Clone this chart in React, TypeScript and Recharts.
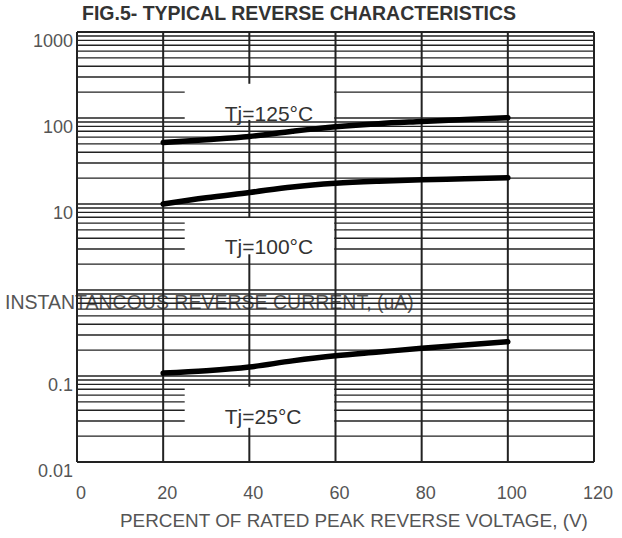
import { LineChart, Line, XAxis, YAxis, ReferenceLine, ReferenceDot } from "recharts";

// percent of rated peak reverse voltage
const percent = [20, 30, 40, 50, 60, 70, 80, 90, 100];
// instantaneous reverse current (uA)
const current125 = [52, 56, 61, 70, 79, 86, 91, 96, 101];
const current100 = [10, 11.8, 13.6, 15.8, 17.4, 18.4, 19.1, 19.6, 20.2];
const current25 = [0.108, 0.115, 0.127, 0.15, 0.172, 0.19, 0.21, 0.23, 0.25];

const xTicks = [0, 20, 40, 60, 80, 100, 120];
const yTicks = [0.01, 0.1, 1, 10, 100, 1000];
const yTickLabels = ["0.01", "0.1", "", "10", "100", "1000"];

const tjLabels = ["Tj=125°C", "Tj=100°C", "Tj=25°C"];
const tjLabelX = [34.3, 34.3, 34.3];
const tjLabelY = [114, 3.2, 0.034];

const decades = [0.01, 0.1, 1, 10, 100];
const minorSteps = [1, 2, 3, 4, 5, 6, 7, 8, 9];

// white patches behind the Tj labels where the grid is left out
const cutBoxes = [
  { x1: 25, x2: 59.7, y1: 95, y2: 250 },
  { x1: 25, x2: 59.7, y1: 2.6, y2: 6.9 },
  { x1: 25, x2: 59.7, y1: 0.025, y2: 0.075 },
];

const FONT = "'Liberation Sans', Arial, sans-serif";
const INK = "#222";

const data = percent.map((p, i) => ({
  x: p,
  t125: current125[i],
  t100: current100[i],
  t25: current25[i],
}));

const gridY = [...decades.flatMap((d) => minorSteps.map((k) => +(d * k).toPrecision(3))), 1000];

function hSegments(v: number) {
  const box = cutBoxes.find((b) => v >= b.y1 && v <= b.y2);
  if (!box) return [[0, 120]];
  return [
    [0, box.x1],
    [box.x2, 120],
  ];
}

function vSegments(x: number) {
  const boxes = cutBoxes.filter((b) => x >= b.x1 && x <= b.x2).sort((a, b) => b.y2 - a.y2);
  const segs: number[][] = [];
  let top = 1000;
  boxes.forEach((b) => {
    segs.push([top, b.y2]);
    top = b.y1;
  });
  segs.push([top, 0.01]);
  return segs;
}

function YTick(props: any) {
  const { x, y, payload } = props;
  const label = yTickLabels[yTicks.indexOf(payload.value)];
  return (
    <text x={x - 4} y={y + 9} textAnchor="end" dominantBaseline="central" fill="#555" fontSize={18} fontFamily={FONT}>
      {label}
    </text>
  );
}

function XTick(props: any) {
  const { x, y, payload } = props;
  return (
    <text x={x + 4} y={y + 31} textAnchor="middle" dominantBaseline="central" fill="#555" fontSize={18} fontFamily={FONT}>
      {payload.value}
    </text>
  );
}

export default function App() {
  return (
    <div style={{ position: "absolute", left: 0, top: 0, width: 622, height: 538, background: "#fff" }}>
      <div
        style={{
          position: "absolute",
          left: 82,
          top: 3,
          fontFamily: FONT,
          fontWeight: "bold",
          fontSize: 19.5,
          lineHeight: "20px",
          color: "#333",
          whiteSpace: "nowrap",
        }}
      >
        FIG.5- TYPICAL REVERSE CHARACTERISTICS
      </div>
      <div
        style={{
          position: "absolute",
          left: 5,
          top: 292,
          fontFamily: FONT,
          fontSize: 19.5,
          lineHeight: "20px",
          color: "#555",
          whiteSpace: "nowrap",
        }}
      >
        INSTANTANCOUS REVERSE CURRENT, (uA)
      </div>
      <div
        style={{
          position: "absolute",
          left: 120,
          top: 511,
          fontFamily: FONT,
          fontSize: 18.9,
          lineHeight: "20px",
          color: "#555",
          whiteSpace: "nowrap",
        }}
      >
        PERCENT OF RATED PEAK REVERSE VOLTAGE, (V)
      </div>
      <div style={{ position: "absolute", left: 0, top: 0 }}>
        <LineChart width={622} height={538} data={data} margin={{ top: 32, right: 28, bottom: 36, left: 17 }}>
          <XAxis
            type="number"
            dataKey="x"
            domain={[0, 120]}
            ticks={xTicks}
            interval={0}
            height={40}
            axisLine={false}
            tickLine={false}
            tickSize={0}
            tickMargin={0}
            tick={<XTick />}
          />
          <YAxis
            type="number"
            scale="log"
            domain={[0.01, 1000]}
            ticks={yTicks}
            interval={0}
            allowDataOverflow
            width={60}
            axisLine={false}
            tickLine={false}
            tickSize={0}
            tickMargin={0}
            tick={<YTick />}
          />

          {gridY.flatMap((v) =>
            hSegments(v).map(([a, b], j) => (
              <ReferenceLine
                key={`h${v}-${j}`}
                segment={[
                  { x: a, y: v },
                  { x: b, y: v },
                ]}
                stroke={INK}
                strokeWidth={v === 0.01 || v === 1000 ? 2 : 1.4}
              />
            ))
          )}
          {xTicks.flatMap((x) =>
            vSegments(x).map(([a, b], j) => (
              <ReferenceLine
                key={`v${x}-${j}`}
                segment={[
                  { x, y: a },
                  { x, y: b },
                ]}
                stroke={INK}
                strokeWidth={2}
              />
            ))
          )}

          <Line type="monotone" dataKey="t125" stroke="#000" strokeWidth={5.5} strokeLinecap="round" dot={false} isAnimationActive={false} />
          <Line type="monotone" dataKey="t100" stroke="#000" strokeWidth={5.5} strokeLinecap="round" dot={false} isAnimationActive={false} />
          <Line type="monotone" dataKey="t25" stroke="#000" strokeWidth={5.5} strokeLinecap="round" dot={false} isAnimationActive={false} />

          {tjLabels.map((t, i) => (
            <ReferenceDot
              key={t}
              x={tjLabelX[i]}
              y={tjLabelY[i]}
              r={0}
              fill="none"
              stroke="none"
              label={{ value: t, position: "right", offset: 0, fill: "#333", fontSize: 21, fontFamily: FONT }}
            />
          ))}
        </LineChart>
      </div>
    </div>
  );
}
